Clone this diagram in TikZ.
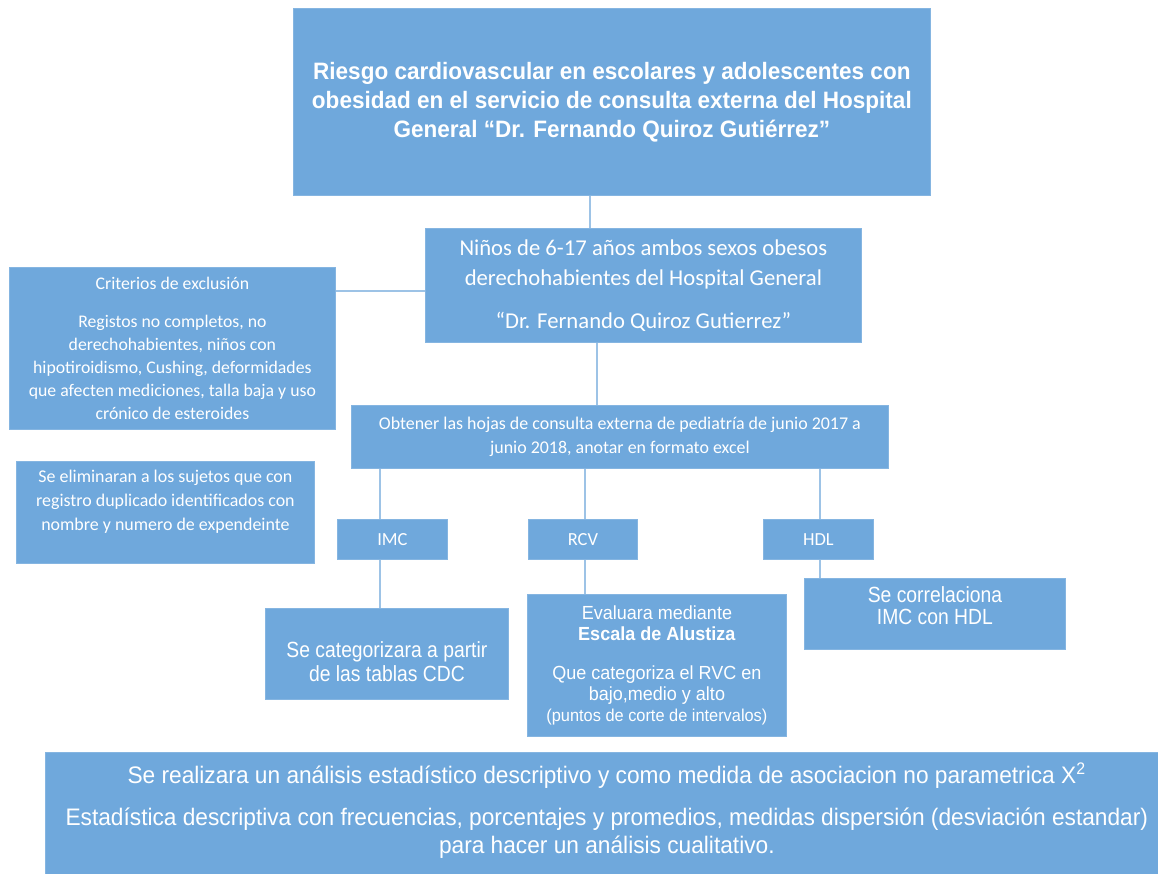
\documentclass[tikz,border=0pt]{standalone}
\usepackage{fontspec}
\setmainfont{Carlito}
\newfontfamily\narrowfont[FakeStretch=0.88]{Liberation Sans}
\newfontfamily\arialfont[FakeStretch=0.95]{Liberation Sans}
\usepackage{tikz}
\usetikzlibrary{positioning,calc}
\definecolor{boxblue}{HTML}{6FA8DC}
\definecolor{lineblue}{HTML}{9DC3E6}

\begin{document}
\begin{tikzpicture}[x=0.02cm, y=-0.02cm,
    box/.style={fill=boxblue, draw=boxblue!85!white, line width=0.5pt, text=white,
        align=center, inner sep=0pt, anchor=north west},
    link/.style={draw=lineblue, line width=1.1pt}]
    \useasboundingbox (0,0) rectangle (1158,874);

    % Top boxes
    \node[box, minimum width=12.74cm, minimum height=3.74cm,
        font=\arialfont\bfseries\fontsize{13.5}{16.5}\selectfont] (title) at (293,8)
        {Riesgo cardiovascular en escolares y adolescentes con\\
         obesidad en el servicio de consulta externa del Hospital\\
         General “Dr. Fernando Quiroz Gutiérrez”};
    \node[box, minimum width=8.72cm, minimum height=2.28cm,
        font=\fontsize{12.9}{17.4}\selectfont] (ninos) at (425,228)
        {Niños de 6-17 años ambos sexos obesos\\
         derechohabientes del Hospital General\\[7pt]
         “Dr. Fernando Quiroz Gutierrez”};

    % Left boxes
    \node[box, minimum width=6.52cm, minimum height=3.24cm,
        font=\fontsize{10.1}{13.1}\selectfont] (crit) at (9,267)
        {Criterios de exclusión\\[8.5pt]
         Registos no completos, no\\
         derechohabientes, niños con\\
         hipotiroidismo, Cushing, deformidades\\
         que afecten mediciones, talla baja y uso\\
         crónico de esteroides};
    \node[box, minimum width=5.96cm, minimum height=2.04cm,
        font=\fontsize{10.2}{13.8}\selectfont] (elim) at (16,461)
        {Se eliminaran a los sujetos que con\\
         registro duplicado identificados con\\
         nombre y numero de expendeinte\\ \mbox{}};

    % Middle row
    \node[box, minimum width=10.74cm, minimum height=1.26cm,
        font=\fontsize{10.2}{13.9}\selectfont] (obtener) at (351,405)
        {Obtener las hojas de consulta externa de pediatría de junio 2017 a\\
         junio 2018, anotar en formato excel};
    \node[box, minimum width=2.2cm, minimum height=0.8cm, font=\fontsize{10.5}{12}\selectfont] (imc) at (337,519) {IMC};
    \node[box, minimum width=2.18cm, minimum height=0.8cm, font=\fontsize{10.5}{12}\selectfont] (rcv) at (528,519) {RCV};
    \node[box, minimum width=2.2cm, minimum height=0.8cm, font=\fontsize{10.5}{12}\selectfont] (hdl) at (763,519) {HDL};

    % Lower boxes
    \node[box, minimum width=4.86cm, minimum height=1.82cm,
        font=\narrowfont\fontsize{12.5}{13.6}\selectfont] (categ) at (265,608)
        {\rule{0pt}{18pt}Se categorizara a partir\\de las tablas CDC};
    \node[box, minimum width=5.18cm, minimum height=2.84cm,
        font=\arialfont\fontsize{10.8}{12}\selectfont] (evalua) at (527,594)
        {Evaluara mediante\\
         \textbf{Escala de Alustiza}\\[10pt]
         Que categoriza el RVC en\\
         bajo,medio y alto\\
         {\fontsize{9.8}{11}\selectfont(puntos de corte de intervalos)}};
    \node[box, minimum width=5.22cm, minimum height=1.42cm,
        font=\narrowfont\fontsize{12.5}{12.5}\selectfont] (correl) at (804,578)
        {Se correlaciona\\IMC con HDL\\[-3pt]\mbox{}};

    % Bottom box
    \node[box, minimum width=22.46cm, minimum height=2.44cm,
        font=\arialfont\fontsize{13.6}{16}\selectfont] (stats) at (45,752)
        {Se realizara un análisis estadístico descriptivo y como medida de asociacion no parametrica X\textsuperscript{2}\\[8pt]
         Estadística descriptiva con frecuencias, porcentajes y promedios, medidas dispersión (desviación estandar)\\
         para hacer un análisis cualitativo.\\[-10pt]\mbox{}};

    % Connectors
    \draw[link] (title.south -| 590,0) -- (ninos.north -| 590,0);
    \draw[link] (ninos.west |- 0,291) -- (crit.east |- 0,291);
    \draw[link] (ninos.south -| 597,0) -- (obtener.north -| 597,0);
    \draw[link] (obtener.south -| 380,0) -- (imc.north -| 380,0);
    \draw[link] (obtener.south -| 585,0) -- (rcv.north -| 585,0);
    \draw[link] (obtener.south -| 820,0) -- (hdl.north -| 820,0);
    \draw[link] (imc.south -| 380,0) -- (categ.north -| 380,0);
    \draw[link] (rcv.south -| 585,0) -- (evalua.north -| 585,0);
    \draw[link] (hdl.south -| 820,0) -- (correl.north -| 820,0);
\end{tikzpicture}
\end{document}
